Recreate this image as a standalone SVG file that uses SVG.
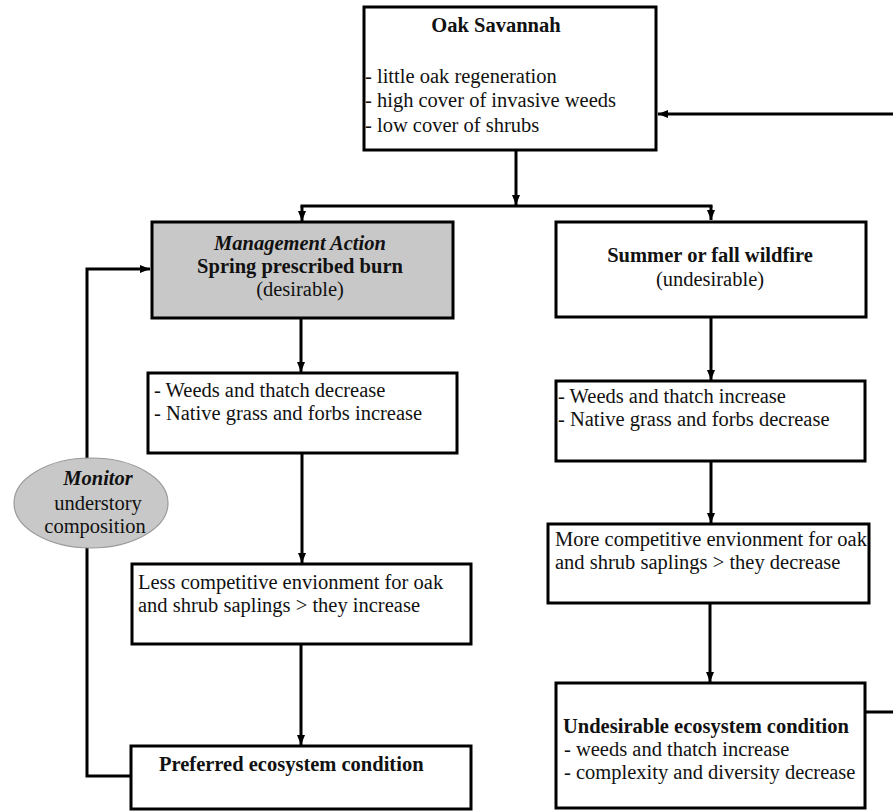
<svg xmlns="http://www.w3.org/2000/svg" width="893" height="812" viewBox="0 0 893 812">
<style>
  .box { fill: #ffffff; stroke: #000000; stroke-width: 3; }
  .gray { fill: #c8c8c8; }
  .t { font-family: "Liberation Serif", "Times New Roman", serif; font-size: 20.5px; fill: #111111; }
  .b { font-weight: bold; }
  .i { font-style: italic; }
  .m { text-anchor: middle; }
  .c { fill: none; stroke: #000000; stroke-width: 3; }
</style>
<defs>
  <marker id="ah" markerUnits="userSpaceOnUse" markerWidth="10" markerHeight="10" viewBox="0 0 10 10" refX="10" refY="5" orient="auto">
    <path d="M0,1 L10,5 L0,9 Z" fill="#000000"/>
  </marker>
</defs>
<rect width="893" height="812" fill="#ffffff"/>

<g id="connectors">
  <path class="c" d="M516,150 L516,205" marker-end="url(#ah)"/>
  <path class="c" d="M300.5,206 L712.5,206"/>
  <path class="c" d="M302,206 L302,221" marker-end="url(#ah)"/>
  <path class="c" d="M711,206 L711,220" marker-end="url(#ah)"/>
  <path class="c" d="M301,318 L301,372" marker-end="url(#ah)"/>
  <path class="c" d="M302,453 L302,563" marker-end="url(#ah)"/>
  <path class="c" d="M301,644 L301,745" marker-end="url(#ah)"/>
  <path class="c" d="M131,776 L87,776 L87,269 L150,269" marker-end="url(#ah)"/>
  <path class="c" d="M711,317 L711,380" marker-end="url(#ah)"/>
  <path class="c" d="M711,461 L711,523" marker-end="url(#ah)"/>
  <path class="c" d="M710,603 L710,682" marker-end="url(#ah)"/>
  <path class="c" d="M865,712 L896,712 L896,114 L658,114" marker-end="url(#ah)"/>
</g>

<g id="oak-savannah">
  <rect class="box" x="364" y="7" width="292" height="143"/>
  <text class="t b m" x="496" y="32">Oak Savannah</text>
  <text class="t" x="365" y="83">- little oak regeneration</text>
  <text class="t" x="365" y="107">- high cover of invasive weeds</text>
  <text class="t" x="365" y="132">- low cover of shrubs</text>
</g>

<g id="management-action">
  <rect class="box gray" x="152" y="222" width="301" height="96"/>
  <text class="t b i m" x="300" y="250">Management Action</text>
  <text class="t b m" x="300" y="273">Spring prescribed burn</text>
  <text class="t m" x="300" y="296">(desirable)</text>
</g>

<g id="wildfire">
  <rect class="box" x="556" y="222" width="310" height="95"/>
  <text class="t b m" x="710" y="262">Summer or fall wildfire</text>
  <text class="t m" x="710" y="286">(undesirable)</text>
</g>

<g id="weeds-decrease">
  <rect class="box" x="148" y="373" width="309" height="80"/>
  <text class="t" x="154" y="397">- Weeds and thatch decrease</text>
  <text class="t" x="154" y="420">- Native grass and forbs increase</text>
</g>

<g id="weeds-increase">
  <rect class="box" x="556" y="381" width="309" height="80"/>
  <text class="t" x="558" y="403">- Weeds and thatch increase</text>
  <text class="t" x="558" y="426">- Native grass and forbs decrease</text>
</g>

<g id="monitor">
  <ellipse cx="91" cy="503" rx="77" ry="45" fill="#c8c8c8" stroke="#9a9a9a" stroke-width="1.2"/>
  <text class="t b i m" x="98" y="485">Monitor</text>
  <text class="t m" x="98" y="510">understory</text>
  <text class="t m" x="95" y="533">composition</text>
</g>

<g id="less-competitive">
  <rect class="box" x="132" y="564" width="339" height="80"/>
  <text class="t" x="138" y="589">Less competitive envionment for oak</text>
  <text class="t" x="138" y="612">and shrub saplings &gt; they increase</text>
</g>

<g id="more-competitive">
  <rect class="box" x="548" y="524" width="321" height="79"/>
  <text class="t" x="555" y="546">More competitive envionment for oak</text>
  <text class="t" x="555" y="569">and shrub saplings &gt; they decrease</text>
</g>

<g id="preferred">
  <rect class="box" x="131" y="746" width="340" height="63"/>
  <text class="t b" x="159" y="771">Preferred ecosystem condition</text>
</g>

<g id="undesirable">
  <rect class="box" x="556" y="683" width="309" height="125"/>
  <text class="t b" x="563" y="733">Undesirable ecosystem condition</text>
  <text class="t" x="564" y="756">- weeds and thatch increase</text>
  <text class="t" x="564" y="779">- complexity and diversity decrease</text>
</g>
</svg>
